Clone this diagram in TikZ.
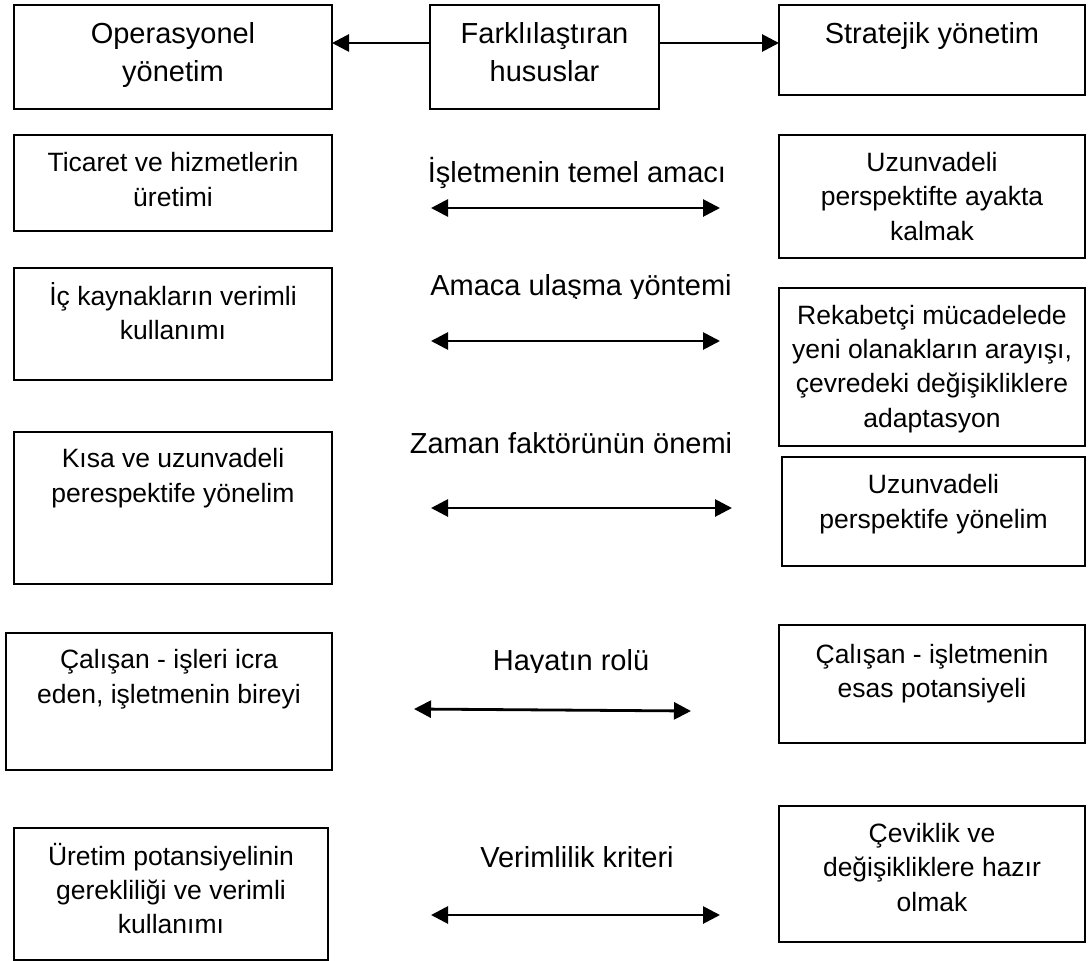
\documentclass[tikz,border=0pt]{standalone}
\usepackage{fontspec}
\setmainfont{Liberation Sans}
\usetikzlibrary{arrows.meta}
\tikzset{
  boxst/.style={draw, line width=2pt, inner sep=0pt, outer sep=0pt},
  lab/.style={anchor=base, inner sep=0pt, font=\fontsize{29pt}{35pt}\selectfont},
  tip/.style={},
  arr/.style={line width=2.8pt, -{Triangle[length=17pt,width=17pt]}},
  darr/.style={line width=2.8pt, {Triangle[length=17pt,width=17pt]}-{Triangle[length=17pt,width=17pt]}},
}
% name x1 y1 x2 y2 firstbaseline fontsize baselineskip text
\newcommand{\bx}[9]{%
  \node[boxst] (#1) at ({(#2+#4)/2},{(#3+#5)/2})
  {\parbox[c][\dimexpr #5pt-#3pt\relax][t]{\dimexpr #4pt-#2pt\relax}{\centering\fontsize{#7pt}{#8pt}\selectfont
   \vspace*{\dimexpr #6pt-#3pt-27pt\relax}\rule{0pt}{27pt}#9\par}};}
\begin{document}
\begin{tikzpicture}[x=1pt,y=-1pt]
\useasboundingbox (0,0) rectangle (1088,961);
% header
\bx{A}{14}{5}{332}{109}{43}{29}{39}{Operasyonel\\yönetim}
\bx{F}{430}{5}{659}{109}{43}{29}{39}{Farklılaştıran\\hususlar}
\bx{S}{779}{5}{1085}{95}{43}{29}{39}{Stratejik yönetim}
\draw[arr] ([yshift=14pt]F.west) -- ([yshift=14pt]A.east);
\draw[arr] ([yshift=14pt]F.east) -- ([yshift=7pt]S.west);
% left column
\bx{L1}{14}{135}{332}{231}{171}{26.5}{35}{Ticaret ve hizmetlerin\\üretimi}
\bx{L2}{14}{268}{332}{380}{305}{26.5}{34}{İç kaynakların verimli\\kullanımı}
\bx{L3}{14}{432}{332}{584}{467}{26.5}{35}{Kısa ve uzunvadeli\\perespektife yönelim}
\bx{L4}{6}{633}{332}{770}{668}{26.5}{35}{Çalışan - işleri icra\\eden, işletmenin bireyi}
\bx{L5}{14}{828}{328}{960}{865}{26.5}{34}{Üretim potansiyelinin\\gerekliliği ve verimli\\kullanımı}
% right column
\bx{R1}{779}{135}{1085}{258}{171}{26.5}{34.5}{Uzunvadeli\\perspektifte ayakta\\kalmak}
\bx{R2}{779}{288}{1085}{446}{324}{26.5}{34.4}{Rekabetçi mücadelede\\yeni olanakların arayışı,\\çevredeki değişikliklere\\adaptasyon}
\bx{R3}{782}{457}{1085}{566}{493}{26.5}{35}{Uzunvadeli\\perspektife yönelim}
\bx{R4}{779}{625}{1085}{743}{663}{26.5}{34}{Çalışan - işletmenin\\esas potansiyeli}
\bx{R5}{779}{806}{1085}{942}{842}{26.5}{34.5}{Çeviklik ve\\değişikliklere hazır\\olmak}
% middle labels
\node[lab] (t1) at (577,182) {İşletmenin temel amacı};
\begin{scope}
  \clip (0,0) rectangle (1088,298);
  \node[lab] (t2) at (581,295) {Amaca ulaşma yöntemi};
\end{scope}
\node[lab] (t3) at (571,453) {Zaman faktörünün önemi};
\begin{scope}
  \clip (0,600) rectangle (1088,672);
  \node[lab] (t4) at (571,670) {Hayatın rolü};
\end{scope}
\node[lab] (t5) at (577,867) {Verimlilik kriteri};
% double arrows
\coordinate (a1l) at (431,208); \coordinate (a1r) at (720,208);
\coordinate (a2l) at (431,341); \coordinate (a2r) at (720,341);
\coordinate (a3l) at (431,508); \coordinate (a3r) at (732,508);
\coordinate (a4l) at (414,709); \coordinate (a4r) at (691,711);
\coordinate (a5l) at (431,915); \coordinate (a5r) at (720,915);
\draw[darr] (a1l) -- (a1r);
\draw[darr] (a2l) -- (a2r);
\draw[darr] (a3l) -- (a3r);
\draw[darr] (a4l) -- (a4r);
\draw[darr] (a5l) -- (a5r);
\end{tikzpicture}
\end{document}
